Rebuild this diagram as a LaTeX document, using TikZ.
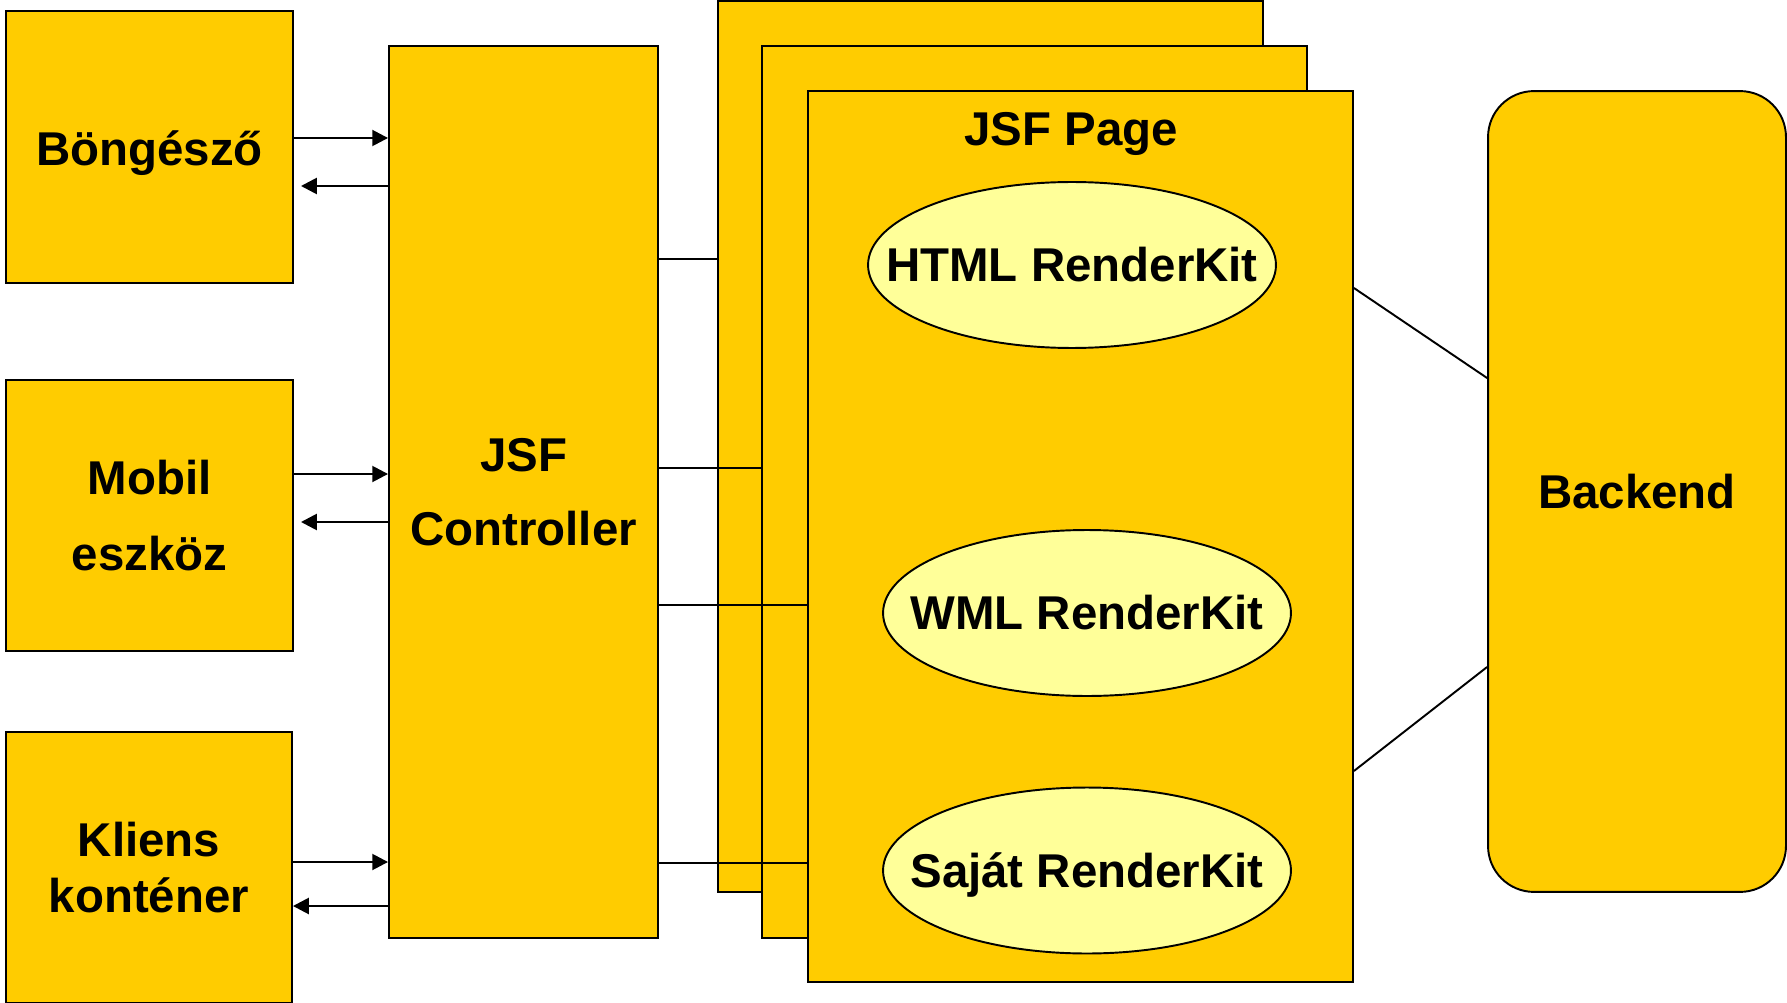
\documentclass[tikz,border=0pt]{standalone}
\usepackage{fontspec}
\setmainfont{Liberation Sans}
\usetikzlibrary{shapes.geometric,arrows.meta,calc}

\definecolor{jsfyellow}{HTML}{FFCC00}
\definecolor{kitfill}{HTML}{FFFF99}

\tikzstyle{every node}=[font=\bfseries\fontsize{27}{32}\selectfont]
\tikzstyle{box}=[draw, line width=1.1pt, fill=jsfyellow, inner sep=0pt, align=center]
\tikzstyle{kit}=[ellipse, draw, line width=1.1pt, fill=kitfill, inner sep=0pt,
                 minimum width=8.16cm, minimum height=3.32cm]
\tikzstyle{arr}=[line width=1.5pt, -{Triangle[length=9pt,width=9pt]}]
\tikzstyle{link}=[line width=1.1pt]

\begin{document}
\begin{tikzpicture}[x=0.02cm, y=-0.02cm]
\useasboundingbox (0,0) rectangle (1787,1003);

% clients
\node[box, minimum width=5.74cm, minimum height=5.44cm] (bong) at (149.5,147) {};
\node at ([yshift=-0.13cm]bong.center) {Böngésző};
\node[box, minimum width=5.74cm, minimum height=5.42cm] (mobil) at (149.5,515.5) {Mobil\\[11pt]eszköz};
\node[box, minimum width=5.72cm, minimum height=5.42cm] (kliens) at (149,867.5) {Kliens\\konténer};

% controller
\node[box, minimum width=5.38cm, minimum height=17.84cm] (ctrl) at (523.5,492) {JSF\\[10pt]Controller};

% stacked pages
\node[box, minimum width=10.9cm, minimum height=17.82cm] (page1) at (990.5,446.5) {};
\node[box, minimum width=10.9cm, minimum height=17.84cm] (page2) at (1034.5,492) {};
\node[box, minimum width=10.9cm, minimum height=17.82cm] (page3) at (1080.5,536.5) {};
\node (title) at ([xshift=-0.19cm,yshift=-0.87cm]page3.north) {JSF Page};

\node[kit, label=center:HTML RenderKit] (html) at (1072,265) {};
\node[kit, label=center:WML RenderKit] (wml) at (1087,613) {};
\node[kit, label={[yshift=-0.09cm]center:Saját RenderKit}] (sajat) at (1087,870.5) {};

% backend
\node[box, rounded corners=0.92cm, minimum width=5.96cm, minimum height=16.02cm] (backend) at (1637,491.5) {Backend};

% client <-> controller
\coordinate (b1) at ($(bong.east)+(0,-9)$);
\coordinate (b2) at ($(bong.east)+(0,39)$);
\coordinate (m1) at ($(mobil.east)+(0,-41.5)$);
\coordinate (m2) at ($(mobil.east)+(0,6.5)$);
\coordinate (k1) at ($(kliens.east)+(0,-5.5)$);
\coordinate (k2) at ($(kliens.east)+(0,38.5)$);
\draw[arr] (b1) -- (b1 -| ctrl.west);
\draw[arr, shorten >=4pt] (b2 -| ctrl.west) -- (b2);
\draw[arr] (m1) -- (m1 -| ctrl.west);
\draw[arr, shorten >=4pt] (m2 -| ctrl.west) -- (m2);
\draw[arr] (k1) -- (k1 -| ctrl.west);
\draw[arr] (k2 -| ctrl.west) -- (k2);

% controller -- pages
\coordinate (c1) at ($(ctrl.east)+(0,-233)$);
\coordinate (c2) at ($(ctrl.east)+(0,-24)$);
\coordinate (c3) at ($(ctrl.east)+(0,113)$);
\coordinate (c4) at ($(ctrl.east)+(0,371)$);
\draw[link] (c1) -- (c1 -| page1.west);
\draw[link] (c2) -- (c2 -| page2.west);
\draw[link] (c3) -- (c3 -| page3.west);
\draw[link] (c4) -- (c4 -| page3.west);

% pages -- backend
\draw[link] ($(page3.east)+(0,-248.5)$) -- ($(backend.west)+(0,-113.5)$);
\draw[link] ($(page3.east)+(0,234.5)$) -- ($(backend.west)+(0,175.5)$);
\end{tikzpicture}
\end{document}
